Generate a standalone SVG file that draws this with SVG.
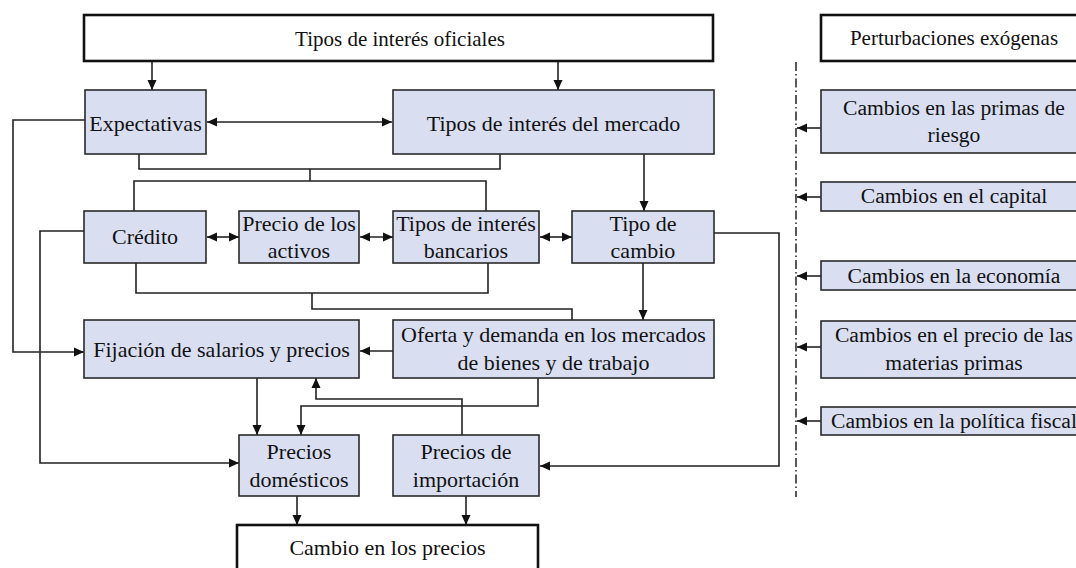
<svg xmlns="http://www.w3.org/2000/svg" width="1076" height="568" viewBox="0 0 1076 568">
<defs>
<style>
.n{fill:#d9dff1;stroke:#2a2a2a;stroke-width:1.6}
.t{fill:#fff;stroke:#111;stroke-width:2.6}
text{font-family:"Liberation Serif","Times New Roman",serif;font-size:22px;fill:#111;text-anchor:middle}
.r{font-size:21.6px}
.h{font-size:21px}
.c{fill:none;stroke:#222;stroke-width:1.6}
.dd{fill:none;stroke:#222;stroke-width:1.5;stroke-dasharray:9 3 1.5 3}
</style>
<marker id="ah" markerUnits="userSpaceOnUse" markerWidth="11" markerHeight="10" refX="10" refY="5" orient="auto-start-reverse">
<path d="M0,0.5 L10,5 L0,9.5 z" fill="#111"/>
</marker>
</defs>
<rect width="1076" height="568" fill="#fff"/>

<g id="connectors">
<line class="c" x1="152" y1="61" x2="152" y2="90" marker-end="url(#ah)"/>
<line class="c" x1="558" y1="61" x2="558" y2="90" marker-end="url(#ah)"/>
<line class="c" x1="207" y1="122" x2="392" y2="122" marker-start="url(#ah)" marker-end="url(#ah)"/>
<polyline class="c" points="85,120 13,120 13,352 84,352" marker-end="url(#ah)"/>
<polyline class="c" points="139,154 139,169 500,169 500,154"/>
<polyline class="c" points="310,169 310,181"/>
<polyline class="c" points="134,211 134,181 486,181 486,211"/>
<line class="c" x1="644" y1="154" x2="644" y2="211" marker-end="url(#ah)"/>
<line class="c" x1="207" y1="237" x2="239" y2="237" marker-start="url(#ah)" marker-end="url(#ah)"/>
<line class="c" x1="360" y1="237" x2="393" y2="237" marker-start="url(#ah)" marker-end="url(#ah)"/>
<line class="c" x1="540" y1="237" x2="572" y2="237" marker-start="url(#ah)" marker-end="url(#ah)"/>
<polyline class="c" points="714,233 779,233 779,466 540,466" marker-end="url(#ah)"/>
<polyline class="c" points="84,231 40,231 40,463 239,463" marker-end="url(#ah)"/>
<polyline class="c" points="136,263 136,293 488,293 488,263"/>
<polyline class="c" points="312,293 312,309 572,309 572,320"/>
<line class="c" x1="643" y1="263" x2="643" y2="320" marker-end="url(#ah)"/>
<line class="c" x1="393" y1="351" x2="360" y2="351" marker-end="url(#ah)"/>
<line class="c" x1="257" y1="378" x2="257" y2="435" marker-end="url(#ah)"/>
<polyline class="c" points="462,435 462,399 316,399 316,378" marker-end="url(#ah)"/>
<polyline class="c" points="538,378 538,406 301,406 301,435" marker-end="url(#ah)"/>
<line class="c" x1="297" y1="496" x2="297" y2="525" marker-end="url(#ah)"/>
<line class="c" x1="466" y1="496" x2="466" y2="525" marker-end="url(#ah)"/>
<line class="dd" x1="796" y1="62" x2="796" y2="497"/>
<line class="c" x1="821" y1="128" x2="797" y2="128" marker-end="url(#ah)"/>
<line class="c" x1="821" y1="197" x2="797" y2="197" marker-end="url(#ah)"/>
<line class="c" x1="821" y1="276" x2="797" y2="276" marker-end="url(#ah)"/>
<line class="c" x1="821" y1="347" x2="797" y2="347" marker-end="url(#ah)"/>
<line class="c" x1="821" y1="421" x2="797" y2="421" marker-end="url(#ah)"/>
</g>

<g id="tipos-oficiales"><rect class="t" x="84" y="15" width="629" height="46"/><text class="h" x="400" y="46">Tipos de interés oficiales</text></g>
<g id="expectativas"><rect class="n" x="85" y="90" width="121" height="64"/><text x="145.5" y="131">Expectativas</text></g>
<g id="tipos-mercado"><rect class="n" x="393" y="90" width="321" height="64"/><text x="553.5" y="131">Tipos de interés del mercado</text></g>
<g id="credito"><rect class="n" x="84" y="211" width="122" height="52"/><text x="145" y="244">Crédito</text></g>
<g id="precio-activos"><rect class="n" x="239" y="211" width="120" height="52"/><text x="299" y="231">Precio de los</text><text x="299" y="258">activos</text></g>
<g id="tipos-bancarios"><rect class="n" x="393" y="211" width="146" height="52"/><text x="466" y="231">Tipos de interés</text><text x="466" y="258">bancarios</text></g>
<g id="tipo-cambio"><rect class="n" x="572" y="211" width="142" height="52"/><text x="643" y="231">Tipo de</text><text x="643" y="258">cambio</text></g>
<g id="fijacion"><rect class="n" x="84" y="320" width="275" height="58"/><text x="221.5" y="357">Fijación de salarios y precios</text></g>
<g id="oferta-demanda"><rect class="n" x="393" y="320" width="321" height="58"/><text x="553.5" y="342">Oferta y demanda en los mercados</text><text x="553.5" y="370">de bienes y de trabajo</text></g>
<g id="precios-domesticos"><rect class="n" x="239" y="435" width="120" height="61"/><text x="299" y="459">Precios</text><text x="299" y="487">domésticos</text></g>
<g id="precios-importacion"><rect class="n" x="393" y="435" width="146" height="61"/><text x="466" y="459">Precios de</text><text x="466" y="487">importación</text></g>
<g id="cambio-precios"><rect class="t" x="237" y="525" width="301" height="50"/><text x="387.5" y="555">Cambio en los precios</text></g>

<g id="perturbaciones"><rect class="t" x="821" y="15" width="270" height="46"/><text class="h" x="954" y="45">Perturbaciones exógenas</text></g>
<g id="primas-riesgo"><rect class="n" x="821" y="90" width="270" height="63"/><text class="r" x="954" y="115">Cambios en las primas de</text><text class="r" x="954" y="142">riesgo</text></g>
<g id="capital"><rect class="n" x="821" y="182" width="270" height="29"/><text class="r" x="954" y="203">Cambios en el capital</text></g>
<g id="economia"><rect class="n" x="821" y="261" width="270" height="29"/><text class="r" x="954" y="283">Cambios en la economía</text></g>
<g id="materias-primas"><rect class="n" x="821" y="321" width="270" height="57"/><text class="r" x="954" y="342">Cambios en el precio de las</text><text class="r" x="954" y="370">materias primas</text></g>
<g id="politica-fiscal"><rect class="n" x="821" y="407" width="270" height="28"/><text class="r" x="954" y="428">Cambios en la política fiscal</text></g>
</svg>
